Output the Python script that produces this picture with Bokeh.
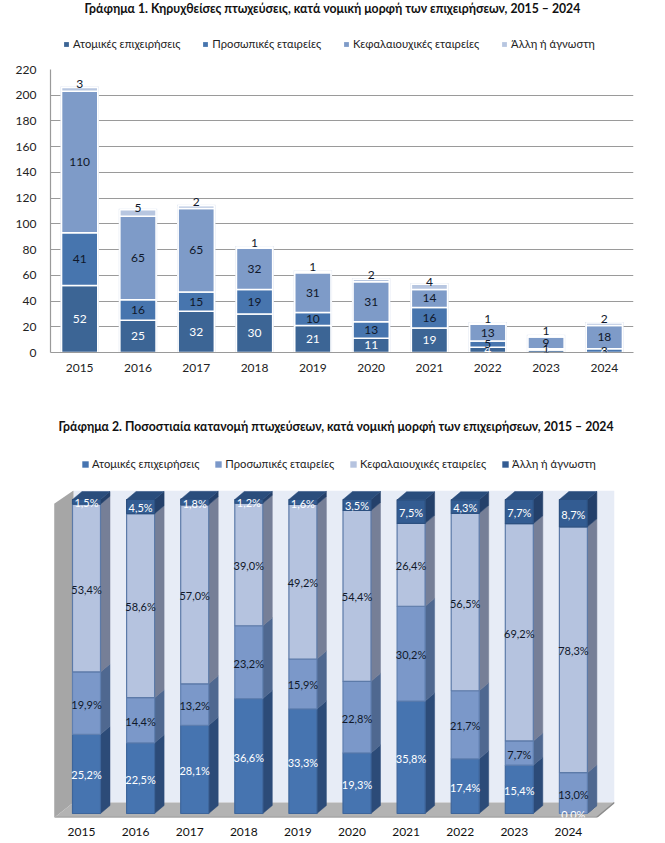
import numpy as np
from bokeh.embed import file_html
from bokeh.layouts import column
from bokeh.models import ColumnDataSource, FactorRange, FixedTicker, LabelSet, LinearAxis, Range1d, Title
from bokeh.plotting import figure
from bokeh.resources import INLINE
from bokeh.core.properties import value

FONT = "Lato"
years = ["2015", "2016", "2017", "2018", "2019", "2020", "2021", "2022", "2023", "2024"]
series = ["Ατομικές επιχειρήσεις", "Προσωπικές εταιρείες", "Κεφαλαιουχικές εταιρείες", "Άλλη ή άγνωστη"]

count_atomikes = [52, 25, 32, 30, 21, 11, 19, 4, 2, 0]
count_prosopikes = [41, 16, 15, 19, 10, 13, 16, 5, 1, 3]
count_kefalaiou = [110, 65, 65, 32, 31, 31, 14, 13, 9, 18]
count_alli = [3, 5, 2, 1, 1, 2, 4, 1, 1, 2]

pct_atomikes = [25.2, 22.5, 28.1, 36.6, 33.3, 19.3, 35.8, 17.4, 15.4, 0.0]
pct_prosopikes = [19.9, 14.4, 13.2, 23.2, 15.9, 22.8, 30.2, 21.7, 7.7, 13.0]
pct_kefalaiou = [53.4, 58.6, 57.0, 39.0, 49.2, 54.4, 26.4, 56.5, 69.2, 78.3]
pct_alli = [1.5, 4.5, 1.8, 1.2, 1.6, 3.5, 7.5, 4.3, 7.7, 8.7]

title1 = "Γράφημα 1. Κηρυχθείσες πτωχεύσεις, κατά νομική μορφή των επιχειρήσεων, 2015 – 2024"
title2 = "Γράφημα 2. Ποσοστιαία κατανομή πτωχεύσεων, κατά νομική μορφή των επιχειρήσεων, 2015 – 2024"


def header(title, offset, height, colors, loc, spacing, standoff, gw):
    h = figure(width=665, height=height, x_range=Range1d(0, 1), y_range=Range1d(0, 1),
               output_backend="svg", toolbar_location=None, x_axis_type=None, y_axis_type=None,
               min_border=0, min_border_left=0, min_border_right=0, min_border_top=0, min_border_bottom=0,
               frame_align=False)
    h.outline_line_color = None
    h.grid.visible = False
    for name, c in zip(series, colors):
        # a zero-size bar: only its legend swatch shows
        h.vbar(x=[0.5], bottom=[0], top=[0], width=0, color=c, line_color=None, legend_label=name)
    lg = h.legend[0]
    lg.orientation = "horizontal"
    lg.location = loc
    lg.border_line_color = None
    lg.background_fill_alpha = 0
    lg.padding = 0
    lg.margin = 0
    lg.spacing = spacing
    lg.label_standoff = standoff
    lg.glyph_width = gw
    lg.glyph_height = gw
    lg.label_text_font = FONT
    lg.label_text_font_size = "11.2px"
    lg.label_text_color = "#222222"
    lg.label_height = 12
    h.add_layout(Title(text=title, text_font=FONT, text_font_size="12.25px", text_font_style="bold",
                       align="left", offset=offset, standoff=0, vertical_align="top",
                       text_color="#111111"), "above")
    return h


# ---------- chart 1 ----------
colors1 = ["#3c6595", "#4775ae", "#7e9bc8", "#b7c6e0"]
text1 = ["#ffffff", "#10182a", "#10182a", "#10182a"]
offs1 = [0, 0, 0, 5]
counts = [count_atomikes, count_prosopikes, count_kefalaiou, count_alli]

h1 = header(title1, 84, 61, colors1, (63, 11), 22, 4, 6)

p1 = figure(width=665, height=357, x_range=FactorRange(*years), y_range=Range1d(0, 220),
            output_backend="svg", toolbar_location=None, frame_align=False,
            min_border_left=50, min_border_right=32, min_border_top=8, min_border_bottom=66)
p1.outline_line_color = None
p1.xgrid.visible = False
p1.ygrid.grid_line_color = "#9a9a9a"
p1.ygrid.grid_line_width = 1.2
p1.yaxis.ticker = FixedTicker(ticks=list(range(0, 221, 20)))
for ax in (p1.xaxis[0], p1.yaxis[0]):
    ax.axis_line_color = "#9a9a9a"
    ax.axis_line_width = 1.2
    ax.major_tick_line_color = None
    ax.minor_tick_line_color = None
    ax.major_label_text_font = FONT
    ax.major_label_text_font_size = "12px"
    ax.major_label_text_color = "#222222"
p1.xaxis.major_label_standoff = 5
p1.yaxis.major_label_standoff = 8

src1 = ColumnDataSource(dict(year=years, **{s: c for s, c in zip(series, counts)}))
total1 = np.sum(counts, axis=0)
p1.vbar(x=years, top=total1 + 0.8, width=0.66, color="#dfe6f1", line_color=None)
p1.vbar_stack(series, x="year", width=0.62, source=src1, color=colors1,
              line_color="#ffffff", line_width=1.5)
cum = np.zeros(10)
for vals, tc, off in zip(counts, text1, offs1):
    v = np.array(vals, dtype=float)
    ls = ColumnDataSource(dict(x=years, y=cum + v / 2, t=[str(a) for a in vals]))
    p1.add_layout(LabelSet(x="x", y="y", text="t", source=ls, text_color=tc,
                           text_font=value(FONT), text_font_size="12px", text_align="center",
                           text_baseline="middle", y_offset=off))
    cum = cum + v

# ---------- chart 2 ----------
front2 = ["#4674b0", "#7b98c9", "#b5c3df", "#335c92"]
side2 = ["#2c4b78", "#4f6890", "#767f97", "#24406a"]
edge2 = ["#3d659b", "#5f7fb0", "#5c7aa8", "#2c5080"]
text2 = ["#ffffff", "#10182a", "#10182a", "#ffffff"]
pcts = [pct_atomikes, pct_prosopikes, pct_kefalaiou, pct_alli]

h2 = header(title2, 58, 72, front2, (81, 20), 15, 3, 8)


def X(px):
    return (px - 81) / 54.1


def Y(py):
    return (813 - py) / 3.14


DX = 9.5 / 54.1
DY = 8 / 3.14
SHIFT = 5 / 54.1
BW = 28 / 54.1

p2 = figure(width=665, height=353, x_range=Range1d(X(54), X(614)), y_range=Range1d(Y(817), Y(490)),
            output_backend="svg", toolbar_location=None, frame_align=False,
            min_border_left=54, min_border_right=51, min_border_top=0, min_border_bottom=26,
            x_axis_type=None, y_axis_type=None)
p2.outline_line_color = None
p2.grid.visible = False

xa = LinearAxis(ticker=FixedTicker(ticks=list(range(10))),
                major_label_overrides={i: y for i, y in enumerate(years)})
xa.axis_line_color = None
xa.major_tick_line_color = None
xa.minor_tick_line_color = None
xa.major_label_standoff = 4
xa.major_label_text_font = FONT
xa.major_label_text_font_size = "12px"
xa.major_label_text_color = "#111111"
p2.add_layout(xa, "below")

# walls and floor
p2.patch([X(73), X(614), X(614), X(73)], [Y(490), Y(490), Y(802), Y(802)], color="#e7ecf6", line_color=None)
p2.patch([X(54), X(73), X(73), X(54)], [Y(503), Y(490), Y(802), Y(817)], color="#a6a6a6", line_color=None)
p2.patch([X(54), X(73), X(614), X(596)], [Y(817), Y(802), Y(802), Y(817)], color="#b3b3b3", line_color=None)
p2.line([X(54), X(596), X(614)], [Y(817), Y(817), Y(802)], line_color="#8c8c8c", line_width=1.5)
p2.line([X(54), X(54)], [Y(503), Y(817)], line_color="#8c8c8c", line_width=1)

xs = np.arange(10) + SHIFT
bottoms = np.zeros(10)
stack_tops = []
for vals, fc, sc, ec in zip(pcts, front2, side2, edge2):
    v = np.array(vals)
    tops = bottoms + v
    sx = [[x + BW / 2, x + BW / 2 + DX, x + BW / 2 + DX, x + BW / 2] for x in xs]
    sy = [[b, b + DY, t + DY, t] for b, t in zip(bottoms, tops)]
    p2.patches(sx, sy, color=sc, line_color=sc, line_width=0.5)
    p2.vbar(x=xs, bottom=bottoms, top=tops, width=BW, color=fc, line_color=ec, line_width=1.2)
    stack_tops.append((bottoms.copy(), tops.copy()))
    bottoms = tops
tx = [[x - BW / 2, x - BW / 2 + DX, x + BW / 2 + DX, x + BW / 2] for x in xs]
ty = [[t, t + DY, t + DY, t] for t in bottoms]
p2.patches(tx, ty, color="#2a4d7c", line_color="#2a4d7c", line_width=0.5)

for vals, tc, (b, t) in zip(pcts, text2, stack_tops):
    labels = [f"{a:.1f}%".replace(".", ",") for a in vals]
    ls = ColumnDataSource(dict(x=xs, y=(b + t) / 2, t=labels))
    p2.add_layout(LabelSet(x="x", y="y", text="t", source=ls, text_color=tc, text_font=value(FONT),
                           text_font_size="11px", text_align="center", text_baseline="middle",
                           y_offset=-1))

layout = column(h1, p1, h2, p2, spacing=0)
open("out.html", "w").write(file_html(layout, INLINE))
